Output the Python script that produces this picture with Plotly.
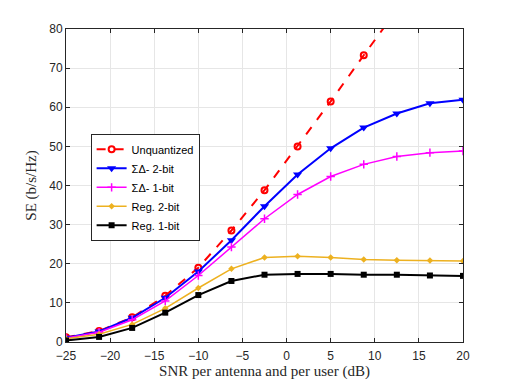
import plotly.graph_objects as go

snr = [-25, -21.25, -17.5, -13.75, -10, -6.25, -2.5, 1.25, 5, 8.75, 12.5, 16.25, 20]
unquant = [1.2, 2.8, 6.3, 11.8, 19.0, 28.5, 38.8, 50.0, 61.5, 73.3, 85.0, 96.5, 108.0]
sd_2bit = [1.1, 2.7, 6.2, 11.3, 18.0, 26.0, 34.7, 42.8, 49.5, 54.8, 58.4, 61.0, 61.9]
sd_1bit = [1.0, 2.5, 5.7, 10.5, 17.0, 24.3, 31.5, 37.7, 42.3, 45.4, 47.4, 48.4, 48.8]
reg_2bit = [0.8, 2.0, 4.5, 8.6, 13.8, 18.7, 21.6, 21.9, 21.6, 21.1, 20.9, 20.8, 20.7]
reg_1bit = [0.4, 1.3, 3.6, 7.5, 12.0, 15.6, 17.2, 17.4, 17.4, 17.2, 17.2, 17.0, 16.9]

fig = go.Figure()

fig.add_trace(go.Scatter(x=snr, y=unquant, name='Unquantized', mode='lines+markers',
                         line=dict(color='#FF0000', width=2, dash='dash'),
                         marker=dict(symbol='circle-open', size=6, color='#FF0000', line=dict(width=2))))
fig.add_trace(go.Scatter(x=snr, y=sd_2bit, name='ΣΔ- 2-bit', mode='lines+markers',
                         line=dict(color='#0000FF', width=2),
                         marker=dict(symbol='triangle-down', size=8, color='#0000FF')))
fig.add_trace(go.Scatter(x=snr, y=sd_1bit, name='ΣΔ- 1-bit', mode='lines+markers',
                         line=dict(color='#FF00FF', width=1.5),
                         marker=dict(symbol='cross-thin', size=6, color='#FF00FF', line=dict(width=1.5, color='#FF00FF'))))
fig.add_trace(go.Scatter(x=snr, y=reg_2bit, name='Reg. 2-bit', mode='lines+markers',
                         line=dict(color='#EDB120', width=1.5),
                         marker=dict(symbol='diamond', size=5, color='#EDB120')))
fig.add_trace(go.Scatter(x=snr, y=reg_1bit, name='Reg. 1-bit', mode='lines+markers',
                         line=dict(color='#000000', width=2),
                         marker=dict(symbol='square', size=6, color='#000000')))

axis_common = dict(showgrid=True, gridcolor='#E6E6E6', gridwidth=1, zeroline=False,
                   showline=True, linecolor='#262626', linewidth=1, mirror='ticks',
                   ticks='inside', ticklen=4, tickcolor='#262626', automargin=False,
                   tickfont=dict(family='Liberation Sans, Arial', size=12, color='#262626'))

# page body has an 8px margin, so the figure is a bit smaller and shifted
fig.update_layout(
    width=504, height=376,
    paper_bgcolor='white', plot_bgcolor='white',
    margin=dict(l=58, r=49, t=21, b=42),
    showlegend=True,
    legend=dict(x=0.062, y=0.665, xanchor='left', yanchor='top',
                bgcolor='white', bordercolor='#262626', borderwidth=1,
                font=dict(family='Liberation Sans, Arial', size=11, color='#000000'),
                tracegroupgap=0, itemwidth=30),
    xaxis=dict(range=[-25, 20], tickvals=[-25, -20, -15, -10, -5, 0, 5, 10, 15, 20],
               ticklabelstandoff=3,
               title=dict(text='SNR per antenna and per user (dB)', standoff=0,
                          font=dict(family='Liberation Serif, Times New Roman', size=15, color='#262626')),
               **axis_common),
    yaxis=dict(range=[0, 80], tickvals=[0, 10, 20, 30, 40, 50, 60, 70, 80],
               title=dict(text='SE (b/s/Hz)', standoff=8,
                          font=dict(family='Liberation Serif, Times New Roman', size=15, color='#262626')),
               **axis_common),
)

fig.write_html("out.html")
